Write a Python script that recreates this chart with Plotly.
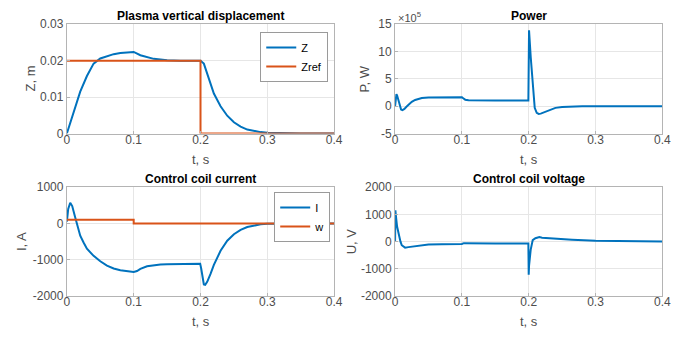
import plotly.graph_objects as go

# ---------------- data ----------------
z_t = [0, 0.005, 0.01, 0.015, 0.02, 0.03, 0.04, 0.05, 0.06, 0.07, 0.08, 0.09, 0.1,
       0.11, 0.12, 0.13, 0.14, 0.15, 0.17, 0.2, 0.205, 0.21, 0.215, 0.22, 0.23, 0.24,
       0.25, 0.26, 0.27, 0.28, 0.29, 0.3, 0.32, 0.35, 0.4]
z_val = [0, 0.003, 0.0058, 0.0088, 0.0115, 0.0158, 0.0192, 0.0206, 0.0213, 0.0218,
         0.0221, 0.0223, 0.0224, 0.0215, 0.0209, 0.0205, 0.0203, 0.0201, 0.0200, 0.0200,
         0.0192, 0.0165, 0.0137, 0.011, 0.0075, 0.0049, 0.0031, 0.0019, 0.0011, 0.0007,
         0.0004, 0.0002, 0.0001, 0.00003, 0]
zref_t = [0, 0.2, 0.2, 0.4]
zref_val = [0.02, 0.02, 0, 0]

# power in units of 1e5 W
p_t = [0, 0.001, 0.002, 0.003, 0.005, 0.007, 0.009, 0.011, 0.014, 0.017, 0.02, 0.025,
       0.03, 0.035, 0.04, 0.05, 0.06, 0.08, 0.1, 0.102, 0.105, 0.11, 0.12, 0.15, 0.1995,
       0.2, 0.2005, 0.203, 0.206, 0.209, 0.212, 0.215, 0.218, 0.222, 0.226, 0.23, 0.235,
       0.24, 0.25, 0.26, 0.28, 0.3, 0.4]
p_val = [0, 1.6, 2.2, 2.0, 1.0, 0.0, -0.6, -0.7, -0.5, -0.1, 0.3, 0.8, 1.15, 1.38, 1.5,
         1.6, 1.63, 1.65, 1.65, 1.45, 1.2, 1.1, 1.06, 1.06, 1.06, 8.0, 13.9, 9.0, 3.5,
         -0.3, -1.2, -1.4, -1.35, -1.15, -0.9, -0.7, -0.45, -0.3, -0.15, -0.08, -0.02, 0, 0]

i_t = [0, 0.002, 0.005, 0.008, 0.012, 0.015, 0.02, 0.025, 0.03, 0.04, 0.05, 0.06, 0.07,
       0.08, 0.09, 0.1, 0.105, 0.11, 0.12, 0.13, 0.14, 0.15, 0.17, 0.1995, 0.201, 0.203,
       0.205, 0.207, 0.21, 0.215, 0.22, 0.23, 0.24, 0.25, 0.26, 0.27, 0.28, 0.29, 0.3,
       0.33, 0.4]
i_val = [50, 400, 570, 480, 200, 0, -340, -530, -700, -900, -1050, -1170, -1250, -1300,
         -1330, -1345, -1320, -1260, -1190, -1160, -1140, -1130, -1120, -1115, -1250,
         -1550, -1690, -1700, -1620, -1400, -1150, -760, -480, -300, -180, -100, -55,
         -25, -10, -3, 0]
w_t = [0, 0.1, 0.1, 0.4]
w_val = [100, 100, 0, 0]

u_t = [0, 0.0005, 0.001, 0.003, 0.005, 0.008, 0.01, 0.015, 0.02, 0.03, 0.05, 0.07, 0.1,
       0.103, 0.11, 0.15, 0.1995, 0.2, 0.2005, 0.203, 0.206, 0.21, 0.216, 0.22, 0.24,
       0.265, 0.3, 0.35, 0.4]
u_val = [0, 1150, 1000, 550, 280, 0, -140, -230, -210, -170, -115, -100, -95, -65, -70,
         -75, -80, -1230, -900, -300, 50, 120, 160, 140, 100, 65, 25, 8, 0]

x_ticks = [0, 0.1, 0.2, 0.3, 0.4]
x_ticktext = ["0", "0.1", "0.2", "0.3", "0.4"]
z_ticks = [0, 0.01, 0.02, 0.03]
z_ticktext = ["0", "0.01", "0.02", "0.03"]
p_ticks = [-5, 0, 5, 10, 15]
p_ticktext = ["-5", "0", "5", "10", "15"]
i_ticks = [-2000, -1000, 0, 1000]
i_ticktext = ["-2000", "-1000", "0", "1000"]
u_ticks = [-2000, -1000, 0, 1000, 2000]
u_ticktext = ["-2000", "-1000", "0", "1000", "2000"]

# ---------------- figure ----------------
W, H = 691, 340
BLUE = "#0072BD"
ORANGE = "#D95319"
FONT = "Liberation Sans, Arial, Helvetica, sans-serif"
TICKC = "#4d4d4d"
AXC = "#b4b4b4"
GRIDC = "#e6e6e6"

fig = go.Figure()

fig.add_trace(go.Scatter(x=z_t, y=z_val, name="Z", mode="lines", line=dict(color=BLUE, width=2),
                         xaxis="x", yaxis="y", legend="legend"))
fig.add_trace(go.Scatter(x=zref_t, y=zref_val, name="Zref", mode="lines", line=dict(color=ORANGE, width=2),
                         xaxis="x", yaxis="y", legend="legend"))
fig.add_trace(go.Scatter(x=p_t, y=p_val, name="P", mode="lines", line=dict(color=BLUE, width=2),
                         xaxis="x2", yaxis="y2", showlegend=False))
fig.add_trace(go.Scatter(x=i_t, y=i_val, name="I", mode="lines", line=dict(color=BLUE, width=2),
                         xaxis="x3", yaxis="y3", legend="legend2"))
fig.add_trace(go.Scatter(x=w_t, y=w_val, name="w", mode="lines", line=dict(color=ORANGE, width=2),
                         xaxis="x3", yaxis="y3", legend="legend2"))
fig.add_trace(go.Scatter(x=u_t, y=u_val, name="U", mode="lines", line=dict(color=BLUE, width=2),
                         xaxis="x4", yaxis="y4", showlegend=False))

# pixel layout of plot areas: (left, right, top, bottom)
boxes = {
    1: (65, 337, 18, 132),
    2: (399, 671, 18, 132),
    3: (65, 337, 188, 301),
    4: (399, 671, 188, 301),
}
yspec = {
    1: ([0, 0.03], z_ticks, z_ticktext),
    2: ([-5, 15], p_ticks, p_ticktext),
    3: ([-2000, 1000], i_ticks, i_ticktext),
    4: ([-2000, 2000], u_ticks, u_ticktext),
}

layout = dict(
    width=W, height=H,
    margin=dict(l=0, r=0, t=0, b=0),
    paper_bgcolor="white", plot_bgcolor="white",
    font=dict(family=FONT, size=12, color=TICKC),
    annotations=[],
)

for k, (l, r, t, b) in boxes.items():
    sx = "" if k == 1 else str(k)
    xd = [l / W, r / W]
    yd = [1 - b / H, 1 - t / H]
    common = dict(showline=True, linecolor=AXC, linewidth=1, mirror=True,
                  showgrid=True, gridcolor=GRIDC, gridwidth=1, zeroline=False,
                  ticks="inside", ticklen=3, tickcolor=AXC,
                  tickfont=dict(family=FONT, size=12, color=TICKC))
    layout["xaxis" + sx] = dict(domain=xd, range=[0, 0.4], tickvals=x_ticks, ticktext=x_ticktext,
                                anchor="y" + sx, ticklabelstandoff=-5, **common)
    yr, yt, ytt = yspec[k]
    layout["yaxis" + sx] = dict(domain=yd, range=yr, tickvals=yt, ticktext=ytt,
                                anchor="x" + sx, **common)

titles = {1: "Plasma vertical displacement", 2: "Power", 3: "Control coil current", 4: "Control coil voltage"}
ylabels = {1: ("Z, m", 28), 2: ("P, W", 368), 3: ("I, A", 19), 4: ("U, V", 355)}

for k, (l, r, t, b) in boxes.items():
    layout["annotations"].append(dict(
        text="<b>" + titles[k] + "</b>", x=(l + r) / 2 / W, y=1 - (t - 9) / H,
        xref="paper", yref="paper", xanchor="center", yanchor="middle", showarrow=False,
        font=dict(family=FONT, size=12, color="#000000")))
    layout["annotations"].append(dict(
        text="t, s", x=(l + r) / 2 / W, y=1 - (b + 27) / H,
        xref="paper", yref="paper", xanchor="center", yanchor="middle", showarrow=False,
        font=dict(family=FONT, size=13, color=TICKC)))
    lab, xc = ylabels[k]
    layout["annotations"].append(dict(
        text=lab, x=xc / W, y=1 - (t + b) / 2 / H, textangle=-90,
        xref="paper", yref="paper", xanchor="center", yanchor="middle", showarrow=False,
        font=dict(family=FONT, size=13, color=TICKC)))

# exponent label of the power axis
layout["annotations"].append(dict(
    text="×10<sup>5</sup>", x=400 / W, y=1 - 10 / H, xref="paper", yref="paper",
    xanchor="left", yanchor="middle", showarrow=False,
    font=dict(family=FONT, size=11, color=TICKC)))

leg_common = dict(xanchor="right", yanchor="top", bgcolor="white", bordercolor="#9a9a9a",
                  borderwidth=1, font=dict(family=FONT, size=11, color="#000000"),
                  tracegroupgap=0, itemwidth=30)
layout["legend"] = dict(x=331 / W, y=1 - 26 / H, **leg_common)
layout["legend2"] = dict(x=333 / W, y=1 - 193 / H, **leg_common)

fig.update_layout(**layout)
fig.write_html("out.html", config={"displayModeBar": False},
               post_script="document.body.style.margin='0';document.body.style.padding='0';")
